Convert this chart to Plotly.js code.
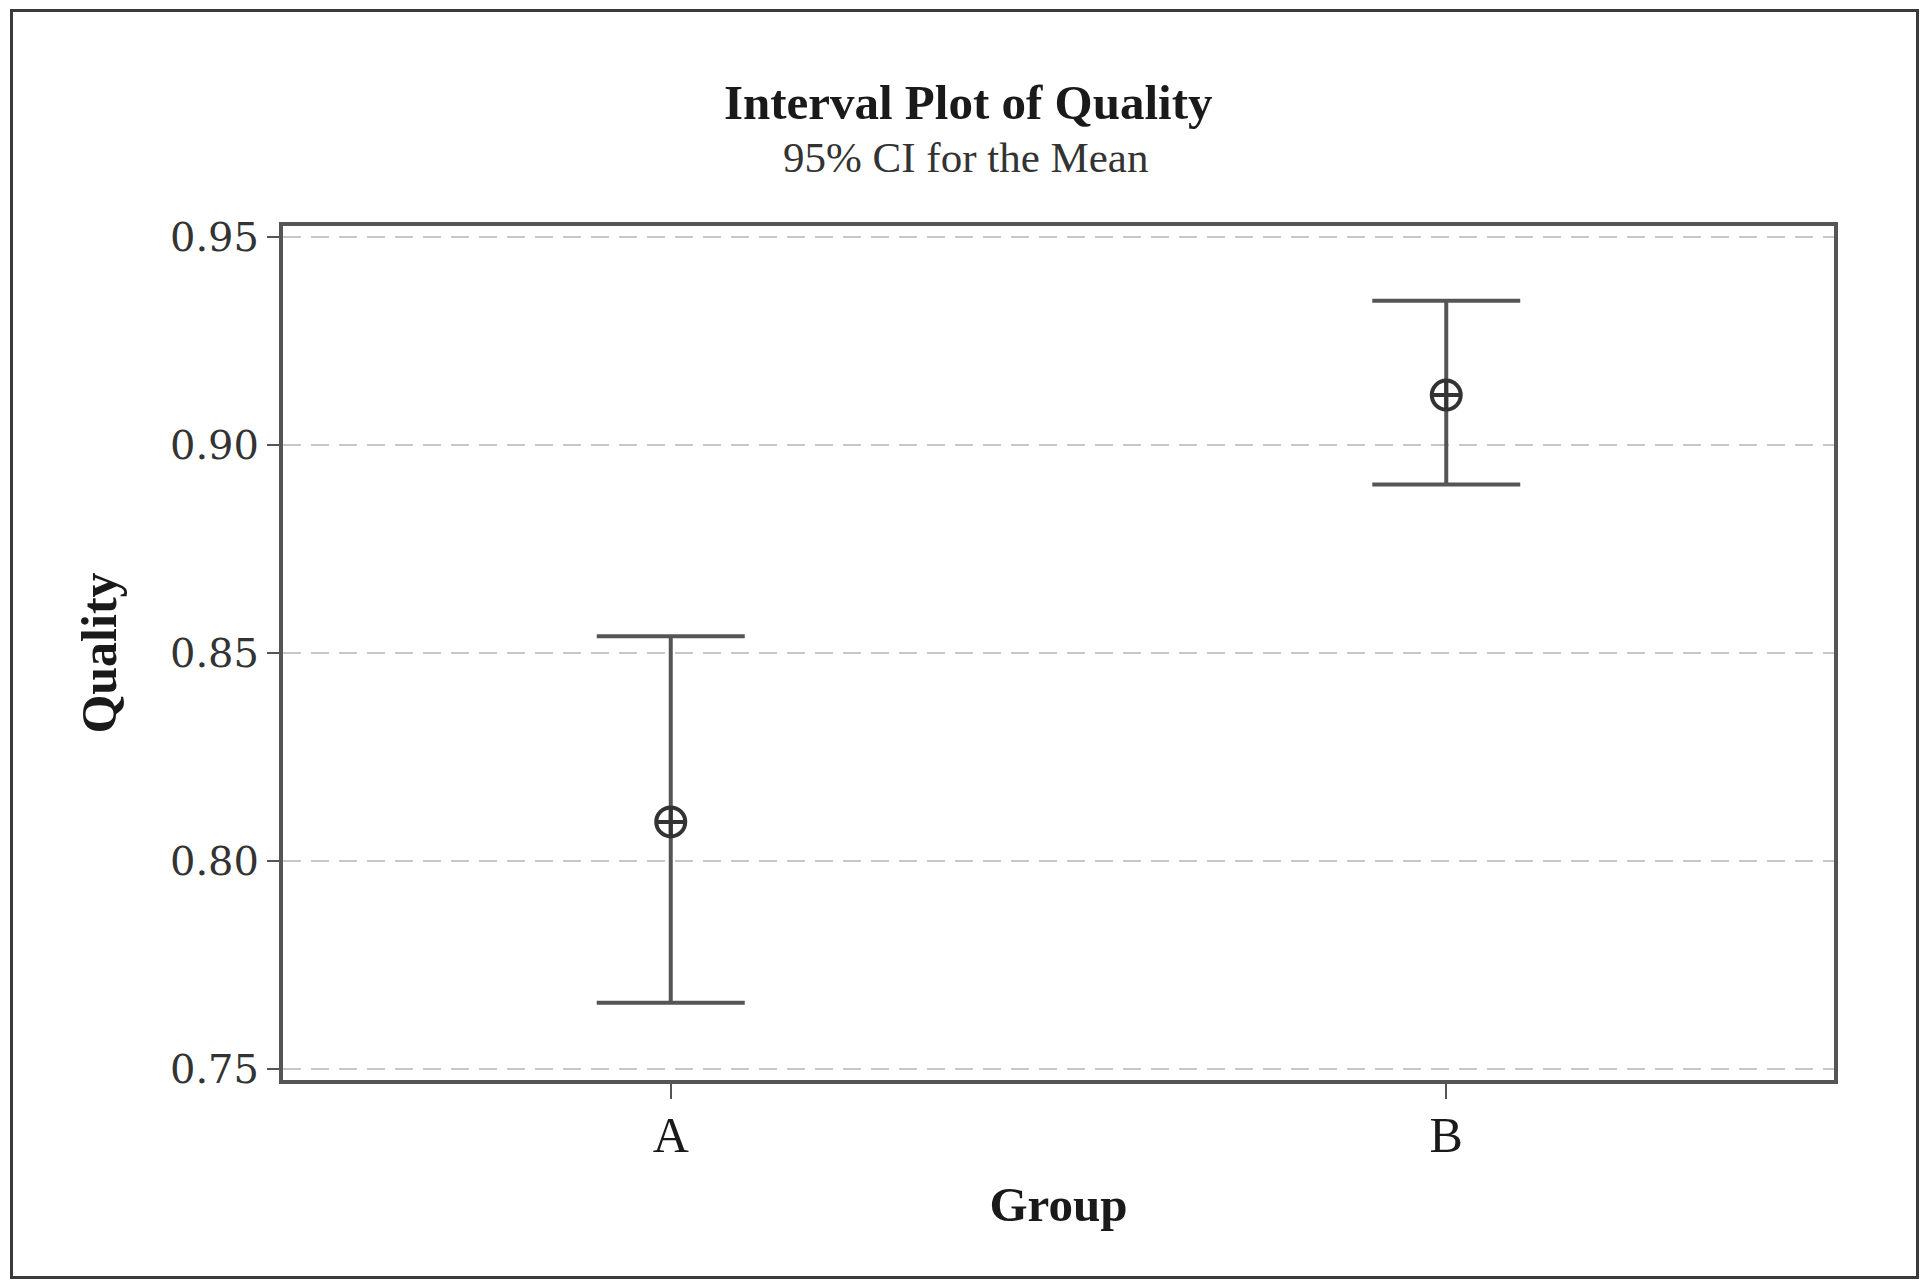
<!DOCTYPE html>
<html>
<head>
<meta charset="utf-8">
<script src="https://cdn.plot.ly/plotly-3.0.1.min.js"></script>
<style>
  html, body { margin: 0; padding: 0; background: #fff; overflow: hidden; }
  #chart { position: absolute; left: 0; top: 0; width: 1921px; height: 1280px; }
  #frame { position: absolute; left: 10px; top: 9px; width: 1903px; height: 1264px;
           border: 3px solid #3a3a3a; pointer-events: none; }
</style>
</head>
<body>
<div id="chart"></div>
<div id="frame"></div>
<script>
// Data
const groups = ['A', 'B'];
const means = [0.8094, 0.912];
const ciLower = [0.7659, 0.8905];
const ciUpper = [0.854, 0.9347];
const yTickValues = [0.75, 0.80, 0.85, 0.90, 0.95];
const yTickLabels = ['0.75', '0.80', '0.85', '0.90', '0.95'];
const titleText = 'Interval Plot of Quality';
const subtitleText = '95% CI for the Mean';

const errPlus = means.map((m, i) => ciUpper[i] - m);
const errMinus = means.map((m, i) => m - ciLower[i]);

const serif = 'Liberation Serif, Times New Roman, serif';
const wideSerif = 'DejaVu Serif, serif';

const trace = {
  type: 'scatter',
  mode: 'markers',
  x: groups,
  y: means,
  error_y: {
    type: 'data',
    symmetric: false,
    array: errPlus,
    arrayminus: errMinus,
    color: '#555555',
    thickness: 4,
    width: 74
  },
  marker: {
    symbol: 'circle-cross-open',
    size: 29,
    color: '#333333',
    line: { width: 4, color: '#333333' }
  },
  showlegend: false,
  hoverinfo: 'x+y'
};

const layout = {
  width: 1921,
  height: 1280,
  margin: { l: 283, r: 87, t: 226, b: 200 },
  paper_bgcolor: '#ffffff',
  plot_bgcolor: '#ffffff',
  font: { family: serif, color: '#1a1a1a' },
  title: {
    text: titleText,
    font: { family: serif, size: 49, weight: 'bold', color: '#1a1a1a' },
    xref: 'container', x: 0.504, xanchor: 'center',
    yref: 'container', y: 1 - 102 / 1280, yanchor: 'middle'
  },
  annotations: [{
    text: subtitleText,
    xref: 'paper', x: (965 - 283) / 1551, xanchor: 'center',
    yref: 'paper', y: (1080 - 158) / 854, yanchor: 'middle',
    showarrow: false,
    font: { family: serif, size: 43, color: '#333333' }
  }],
  xaxis: {
    type: 'category',
    range: [-0.5, 1.5],
    showline: true, mirror: true, linecolor: '#555555', linewidth: 4,
    ticks: 'outside', ticklen: 15, tickwidth: 2, tickcolor: '#555555',
    ticklabelstandoff: -7,
    tickfont: { family: serif, size: 50, color: '#1a1a1a' },
    showgrid: false, zeroline: false,
    title: { text: 'Group', font: { family: serif, size: 49, weight: 'bold', color: '#1a1a1a' }, standoff: 26 }
  },
  yaxis: {
    range: [0.747356, 0.952644],
    tickmode: 'array',
    tickvals: yTickValues,
    ticktext: yTickLabels,
    showline: true, mirror: true, linecolor: '#555555', linewidth: 4,
    ticks: 'outside', ticklen: 12, tickwidth: 2, tickcolor: '#555555',
    ticklabelstandoff: 0,
    tickfont: { family: wideSerif, size: 40, color: '#333333' },
    showgrid: true, gridcolor: '#c8c8c8', gridwidth: 2, griddash: '18px,10px',
    zeroline: false,
    title: { text: 'Quality', font: { family: serif, size: 50, weight: 'bold', color: '#1a1a1a' }, standoff: 38 }
  }
};

Plotly.newPlot('chart', [trace], layout, { displayModeBar: false, staticPlot: true });
</script>
</body>
</html>
